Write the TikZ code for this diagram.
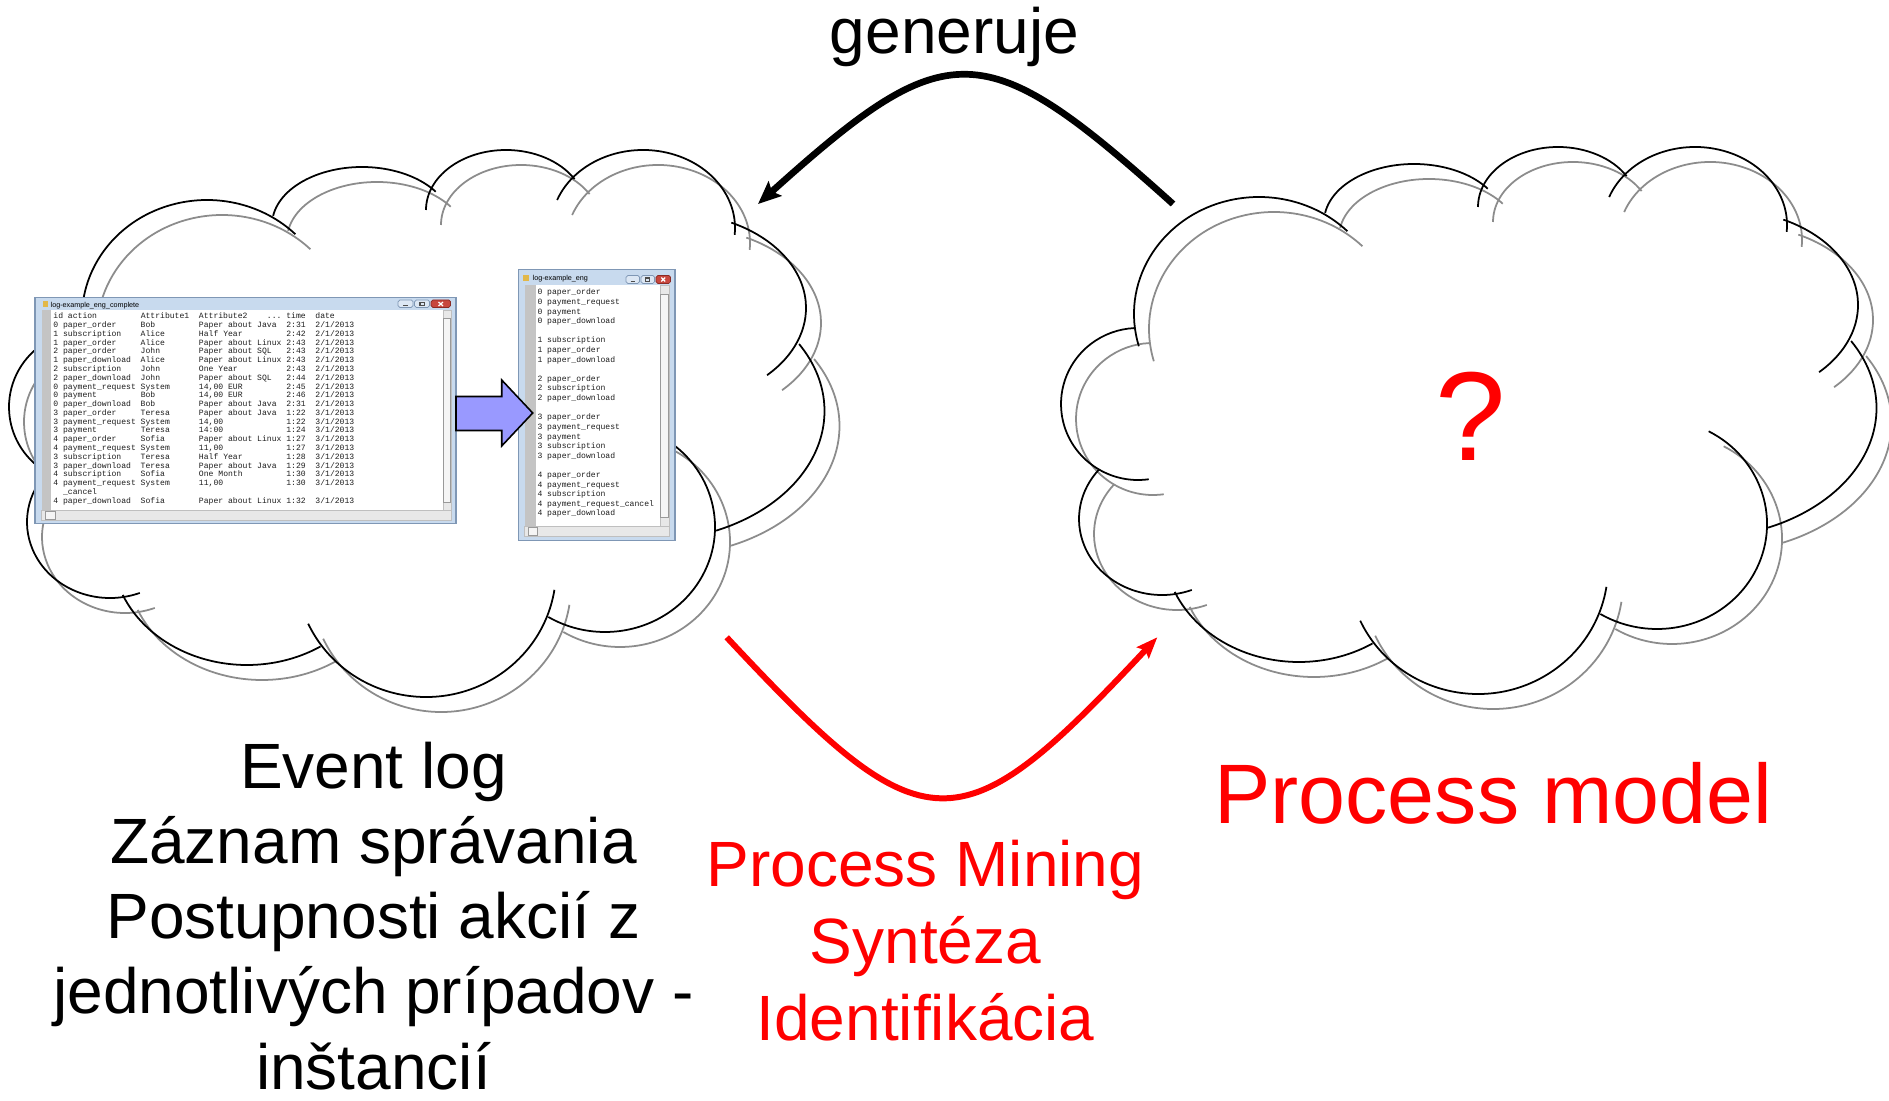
\documentclass[tikz,border=0pt]{standalone}
\usepackage{fontspec}
\setmainfont{Liberation Sans}
\newfontfamily\monofont{Liberation Mono}
\usepackage{tikz}
\usetikzlibrary{arrows.meta}

\definecolor{cloudgray}{HTML}{8C8C8C}
\definecolor{arrowblue}{HTML}{9999FF}
\definecolor{frameblue}{HTML}{C8DAEE}
\definecolor{frameedge}{HTML}{7F97B5}
\definecolor{btnblue}{HTML}{DCE7F4}
\definecolor{closered}{HTML}{C8473E}
\definecolor{closeedge}{HTML}{8A2A24}
\definecolor{guttergray}{HTML}{C4C4C4}
\definecolor{scrollgray}{HTML}{E8E8E8}
\definecolor{iconyellow}{HTML}{E2B84A}
\definecolor{logink}{HTML}{1E1E1E}

% one lobe of the cloud: centre, radii, start and end angle (y axis points down)
\newcommand{\lobe}[6]{\draw (#1,#2) ++(#5:#3 and #4) arc[start angle=#5,end angle=#6,x radius=#3,y radius=#4];}
\newcommand{\cloudshape}{%
  \lobe{-331}{-16}{77}{76}{82}{267}
  \lobe{-210}{-106}{125}{117}{164}{315}
  \lobe{-55}{-198}{90}{58}{189}{325}
  \lobe{89}{-213}{80}{60}{180}{329}
  \lobe{226}{-195}{92}{78}{201}{365}
  \lobe{256}{-115}{133}{95}{-64}{45}
  \lobe{229.5}{-12}{178}{130}{-31}{67}
  \lobe{188}{104}{110}{105}{-62}{121}
  \lobe{9}{147}{130}{127}{9}{155}
  \lobe{-170}{127}{135}{115}{57}{157}
  \lobe{-307}{99}{83}{76}{69}{221}%
}
% one row of the full log, fixed character columns
\newcommand{\logrow}[6]{\hbox{\makebox[1.2em][l]{#1}\makebox[9.6em][l]{#2}\makebox[7.2em][l]{#3}\makebox[10.8em][l]{#4}\makebox[3.6em][l]{#5}#6}}

\begin{document}
\begin{tikzpicture}[
  x=0.01cm, y=-0.01cm,
  lobe/.style={line width=0.5pt},
  bigtext/.style={font=\fontsize{18.2pt}{21.8pt}\selectfont, inner sep=0pt, anchor=base, text depth=0pt},
  redtext/.style={bigtext, text=red},
  genarrow/.style={line width=1.9pt, -{Stealth[length=6.5pt,width=5.5pt,inset=1.2pt]}},
  minearrow/.style={draw=red, line width=1.7pt, -{Stealth[length=6pt,width=4.6pt,inset=1pt]}},
  blockarrow/.style={draw, fill=arrowblue, line width=0.45pt},
  winframe/.style={draw=frameedge, fill=frameblue, line width=0.3pt},
  winbtn/.style={draw=frameedge, fill=btnblue, line width=0.2pt, rounded corners=0.5pt},
  winclose/.style={draw=closeedge, fill=closered, line width=0.2pt, rounded corners=0.5pt},
  btnglyph/.style={draw=black!70, line width=0.3pt},
  scrolltrack/.style={draw=black!25, fill=scrollgray, line width=0.2pt},
  scrollthumb/.style={draw=black!40, fill=black!4, line width=0.2pt},
  titletext/.style={font=\fontsize{2.05pt}{2.4pt}\selectfont, inner sep=0pt, anchor=base west},
  logtext/.style={font=\monofont\fontsize{2.3pt}{2.5pt}\selectfont, text=logink, inner sep=0pt, anchor=base west}
]
\path[use as bounding box, fill=white] (0,0) rectangle (1889,1101);

%--------------------------------------------------
% clouds, grey shadow first
%--------------------------------------------------
\begin{scope}[shift={(432,438)}, lobe, color=cloudgray] \cloudshape \end{scope}
\begin{scope}[shift={(417,423)}, lobe] \cloudshape \end{scope}
\begin{scope}[shift={(1484,435)}, lobe, color=cloudgray] \cloudshape \end{scope}
\begin{scope}[shift={(1469,420)}, lobe] \cloudshape \end{scope}

%--------------------------------------------------
% left window: complete log
%--------------------------------------------------
\draw[winframe] (35,297.5) rectangle (456,523.5);
\fill[iconyellow] (42.5,301.5) rectangle (48,307);
\node[titletext] (fulltitle) at (50,307.3) {log-example\_eng\_complete};
\draw[winbtn] (398,300) rectangle (413,307.5);
\draw[winbtn] (414.5,300) rectangle (429.5,307.5);
\draw[winclose] (431,300) rectangle (450.5,307.5);
\draw[btnglyph] (403,305.5) -- (408,305.5);
\draw[btnglyph] (420,302.3) rectangle (424.5,305.5);
\draw[white, line width=0.35pt] (438.5,302) -- (443,306) (438.5,306) -- (443,302);
\fill[guttergray] (41.5,310.5) rectangle (50.5,510.5);
\fill[white] (50.5,310.5) rectangle (443,510.5);
\draw[scrolltrack] (443,310.5) rectangle (451.5,510.5);
\draw[scrolltrack] (41.5,510.5) rectangle (451.5,520);
\draw[scrollthumb] (443.8,318.5) rectangle (450.7,502.5);
\draw[scrollthumb] (45,511.5) rectangle (55,519);

\node[logtext] (fullrows) at (52.7,318.7) {\vtop{\baselineskip=2.5pt\lineskiplimit=-5pt
\logrow{id}{~action}{Attribute1}{Attribute2~~~~...}{time}{date}
\logrow{0}{paper\_order}{Bob}{Paper about Java}{2:31}{2/1/2013}
\logrow{1}{subscription}{Alice}{Half Year}{2:42}{2/1/2013}
\logrow{1}{paper\_order}{Alice}{Paper about Linux}{2:43}{2/1/2013}
\logrow{2}{paper\_order}{John}{Paper about SQL}{2:43}{2/1/2013}
\logrow{1}{paper\_download}{Alice}{Paper about Linux}{2:43}{2/1/2013}
\logrow{2}{subscription}{John}{One Year}{2:43}{2/1/2013}
\logrow{2}{paper\_download}{John}{Paper about SQL}{2:44}{2/1/2013}
\logrow{0}{payment\_request}{System}{14,00 EUR}{2:45}{2/1/2013}
\logrow{0}{payment}{Bob}{14,00 EUR}{2:46}{2/1/2013}
\logrow{0}{paper\_download}{Bob}{Paper about Java}{2:31}{2/1/2013}
\logrow{3}{paper\_order}{Teresa}{Paper about Java}{1:22}{3/1/2013}
\logrow{3}{payment\_request}{System}{14,00}{1:22}{3/1/2013}
\logrow{3}{payment}{Teresa}{14:00}{1:24}{3/1/2013}
\logrow{4}{paper\_order}{Sofia}{Paper about Linux}{1:27}{3/1/2013}
\logrow{4}{payment\_request}{System}{11,00}{1:27}{3/1/2013}
\logrow{3}{subscription}{Teresa}{Half Year}{1:28}{3/1/2013}
\logrow{3}{paper\_download}{Teresa}{Paper about Java}{1:29}{3/1/2013}
\logrow{4}{subscription}{Sofia}{One Month}{1:30}{3/1/2013}
\logrow{4}{payment\_request}{System}{11,00}{1:30}{3/1/2013}
\hbox{\makebox[1.2em][l]{}\_cancel}
\logrow{4}{paper\_download}{Sofia}{Paper about Linux}{1:32}{3/1/2013}}};

%--------------------------------------------------
% right window: log sorted by cases
%--------------------------------------------------
\draw[winframe] (518.5,269.5) rectangle (675,540.5);
\fill[iconyellow] (523,275) rectangle (529,281.5);
\node[titletext] (casetitle) at (532,281) {log-example\_eng};
\draw[winbtn] (626,275.5) rectangle (639.5,283.5);
\draw[winbtn] (641,275.5) rectangle (654.5,283.5);
\draw[winclose] (656,275.5) rectangle (670.5,283.5);
\draw[btnglyph] (630.5,281.5) -- (635,281.5);
\draw[btnglyph] (645.8,278) rectangle (649.7,281.5);
\draw[white, line width=0.35pt] (661.3,277.5) -- (665.2,281.5) (661.3,281.5) -- (665.2,277.5);
\fill[guttergray] (524.5,285.5) rectangle (536,526);
\fill[white] (536,285.5) rectangle (660,526);
\draw[scrolltrack] (660,285.5) rectangle (669.5,526);
\draw[scrolltrack] (524.5,526) rectangle (669.5,536);
\draw[scrollthumb] (660.8,294) rectangle (668.7,517);
\draw[scrollthumb] (528,527) rectangle (537,535);

\node[logtext] (caserows) at (536.8,295) {\vtop{\baselineskip=2.73pt\lineskiplimit=-5pt
\hbox{0 paper\_order}
\hbox{0 payment\_request}
\hbox{0 payment}
\hbox{0 paper\_download}
\hbox{}
\hbox{1 subscription}
\hbox{1 paper\_order}
\hbox{1 paper\_download}
\hbox{}
\hbox{2 paper\_order}
\hbox{2 subscription}
\hbox{2 paper\_download}
\hbox{}
\hbox{3 paper\_order}
\hbox{3 payment\_request}
\hbox{3 payment}
\hbox{3 subscription}
\hbox{3 paper\_download}
\hbox{}
\hbox{4 paper\_order}
\hbox{4 payment\_request}
\hbox{4 subscription}
\hbox{4 payment\_request\_cancel}
\hbox{4 paper\_download}}};

% block arrow between the two windows
\draw[blockarrow] (456,396.5) -- (501.7,396.5) -- (501.7,380) -- (532.7,413)
  -- (501.7,446) -- (501.7,430.5) -- (456,430.5) -- cycle;

%--------------------------------------------------
% arrows between the clouds
%--------------------------------------------------
\coordinate (gen-from) at (1173,204);
\coordinate (gen-to) at (758,204);
\draw[genarrow] (gen-from) .. controls (983,33) and (948,33) .. (gen-to);
\node[bigtext] (gen) at (954.5,54) {generuje};

\coordinate (mine-from) at (726.7,637.3);
\coordinate (mine-to) at (1157.3,637.3);
\draw[minearrow] (mine-from) .. controls (925,850) and (958.7,850) .. (mine-to);

%--------------------------------------------------
% labels
%--------------------------------------------------
\foreach \txt [count=\i from 0] in {Event log, Záznam správania, Postupnosti akcií z, jednotlivých prípadov -, inštancií}
  \node[bigtext] (ev\i) at (373.5, 788+75.3*\i) {\txt};

\foreach \txt [count=\i from 0] in {Process Mining, Syntéza, Identifikácia}
  \node[redtext] (pm\i) at (925.5, 886+77*\i) {\txt};

\node[redtext, font=\fontsize{24pt}{28pt}\selectfont] (pmodel) at (1493.5,823) {Process model};
\node[redtext, font=\fontsize{36pt}{40pt}\selectfont] (qmark) at (1471,460.7) {?};

\end{tikzpicture}
\end{document}
